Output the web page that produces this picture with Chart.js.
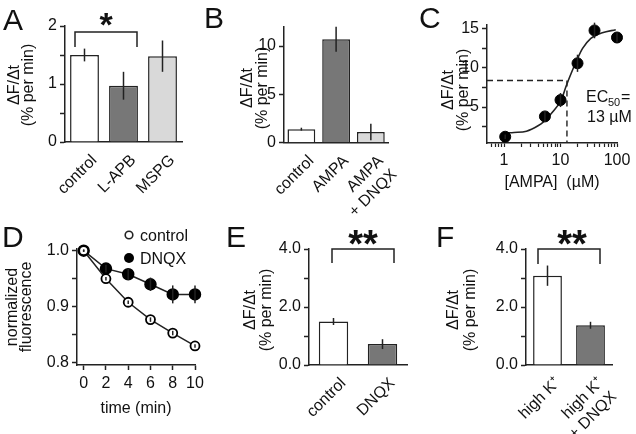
<!DOCTYPE html>
<html>
<head>
<meta charset="utf-8">
<script src="https://cdn.jsdelivr.net/npm/chart.js@4"></script>
<style>
  body { margin: 0; background: #fff; width: 636px; height: 434px; position: relative; overflow: hidden; }
  canvas { position: absolute; }
</style>
</head>
<body>
<canvas id="cA"></canvas>
<canvas id="cB"></canvas>
<canvas id="cC"></canvas>
<canvas id="cD"></canvas>
<canvas id="cE"></canvas>
<canvas id="cF"></canvas>
<script>
// --- data ---
const catA = ['control', 'L-APB', 'MSPG'];
const valA = [1.5, 0.97, 1.48];
const errA = [0.11, 0.24, 0.27];

const catB = ['control', 'AMPA', ['AMPA', '+ DNQX']];
const valB = [1.4, 10.7, 1.1];
const errB = [0.15, 1.3, 0.85];

const concC = [1.05, 5.3, 10, 20, 40, 100];
const valC = [1.2, 3.8, 5.9, 10.6, 14.8, 13.9];
const errC = [0.3, 0.7, 0.9, 1.1, 1.0, 0.6];
const fitX = [1.1, 1.5, 2.5, 4, 5, 7.3, 10.3, 12.6, 15.4, 18.9, 24.6, 34.4, 55, 95];
const fitY = [1.7, 1.75, 1.9, 2.6, 3.1, 4.4, 5.9, 7.7, 9.3, 10.8, 12.5, 13.8, 14.5, 14.9];
const ec50 = 13;
const halfMax = 8.4;

const timeD = [0, 2, 4, 6, 8, 10];
const ctrlD = [1.0, 0.95, 0.908, 0.877, 0.853, 0.83];
const ctrlErr = [0.002, 0.003, 0.003, 0.004, 0.004, 0.003];
const dnqxD = [1.0, 0.968, 0.958, 0.94, 0.922, 0.922];
const dnqxErr = [0.002, 0.007, 0.01, 0.012, 0.016, 0.016];

const catE = ['control', 'DNQX'];
const valE = [1.5, 0.72];
const errE = [0.12, 0.17];

const catF = ['high K\u207A', ['high K\u207A', '+ DNQX']];
const valF = [3.08, 1.37];
const errF = [0.35, 0.12];

const colA = ['#ffffff', '#777777', '#d9d9d9'];
const colE = ['#ffffff', '#777777'];

// --- style ---
const FONT = "'Liberation Sans', Arial, sans-serif";
const INK = '#222';
Chart.defaults.font.family = FONT;
Chart.defaults.font.size = 16;
Chart.defaults.color = '#111';
Chart.defaults.animation = false;
Chart.defaults.plugins.legend.display = false;
Chart.defaults.plugins.tooltip.enabled = false;

const yTitle = ['\u0394F/\u0394t', '(% per min)'];

// error bars for any dataset carrying an "errors" array
const errorBars = {
  id: 'errorBars',
  afterDatasetsDraw(chart) {
    const ctx = chart.ctx, y = chart.scales.y;
    chart.data.datasets.forEach((ds, i) => {
      if (!ds.errors) return;
      chart.getDatasetMeta(i).data.forEach((el, j) => {
        const v = typeof ds.data[j] === 'object' ? ds.data[j].y : ds.data[j];
        const e = ds.errors[j];
        ctx.save();
        ctx.strokeStyle = INK;
        ctx.lineWidth = 1.5;
        ctx.beginPath();
        ctx.moveTo(el.x, y.getPixelForValue(v - e));
        ctx.lineTo(el.x, y.getPixelForValue(v + e));
        ctx.stroke();
        ctx.restore();
      });
    });
  }
};

// panel letters, y titles, brackets, stars, legend marks (page coordinates)
function decor(box, spec) {
  return {
    id: 'decor',
    afterDraw(chart) {
      const ctx = chart.ctx, ox = box[0], oy = box[1];
      ctx.save();
      ctx.strokeStyle = INK;
      ctx.lineWidth = 1.5;
      (spec.brackets || []).forEach(b => {
        ctx.beginPath();
        ctx.moveTo(b[0] - ox, b[3] - oy);
        ctx.lineTo(b[0] - ox, b[2] - oy);
        ctx.lineTo(b[1] - ox, b[2] - oy);
        ctx.lineTo(b[1] - ox, b[3] - oy);
        ctx.stroke();
      });
      (spec.marks || []).forEach(m => {
        ctx.beginPath();
        ctx.arc(m.x - ox, m.y - oy, m.r, 0, Math.PI * 2);
        ctx.fillStyle = m.fill;
        ctx.fill();
        if (m.lw) { ctx.lineWidth = m.lw; ctx.stroke(); }
      });
      ctx.fillStyle = '#111';
      ctx.textBaseline = 'alphabetic';
      (spec.texts || []).forEach(t => {
        ctx.font = t.font || '16px ' + FONT;
        ctx.textAlign = t.align || 'left';
        ctx.fillText(t.t, t.x - ox, t.y - oy);
      });
      if (spec.vtitle) {
        // rotated y-axis title, one line per entry, stacked left to right
        const v = spec.vtitle;
        ctx.font = '16px ' + FONT;
        ctx.textAlign = 'center';
        ctx.textBaseline = 'middle';
        v.lines.forEach((line, i) => {
          ctx.save();
          ctx.translate(v.x - ox + i * v.lh, v.y - oy);
          ctx.rotate(-Math.PI / 2);
          ctx.fillText(line, 0, 0);
          ctx.restore();
        });
      }
      ctx.restore();
    }
  };
}

function yAxis(o) {
  return {
    type: 'linear',
    min: o.min,
    max: o.max,
    afterBuildTicks: s => { s.ticks = o.ticks.map(v => ({ value: v })); },
    ticks: { callback: o.label, padding: 3, autoSkip: false },
    grid: { drawOnChartArea: false, tickLength: 5, tickColor: INK, tickWidth: 1.5 },
    border: { color: INK, width: 1.5 },
    title: { display: false }
  };
}

function catAxis() {
  return {
    type: 'category',
    grid: { display: false, drawTicks: false },
    border: { color: INK, width: 1.5 },
    ticks: { minRotation: 45, maxRotation: 45, autoSkip: false, padding: 9, labelOffset: 10, font: { size: 16 } }
  };
}

function barSet(vals, errs, colors, pct) {
  return {
    data: vals, errors: errs, backgroundColor: colors,
    borderColor: INK, borderWidth: 1.5,
    categoryPercentage: 1, barPercentage: pct
  };
}

function makeChart(id, box, area, cfg, spec) {
  const cv = document.getElementById(id);
  cv.width = box[2] - box[0];
  cv.height = box[3] - box[1];
  cv.style.left = box[0] + 'px';
  cv.style.top = box[1] + 'px';
  const o = cfg.options;
  o.responsive = false;
  o.devicePixelRatio = 1;
  o.layout = { autoPadding: false, padding: { left: 0, top: area[1] - box[1], right: box[2] - area[2], bottom: 0 } };
  o.scales.x.afterFit = s => { s.height = box[3] - area[3]; };
  o.scales.y.afterFit = s => { s.width = area[0] - box[0]; };
  cfg.plugins = [errorBars, decor(box, spec)];
  return new Chart(cv, cfg);
}

const LETTER = '30px ' + FONT;
const intLabel = v => Number.isInteger(v) ? String(v) : '';
const evenLabel = v => (v % 2 === 0 ? v.toFixed(1) : '');

// A
makeChart('cA', [0, 0, 205, 215], [65, 26, 182, 142], {
  type: 'bar',
  data: { labels: catA, datasets: [barSet(valA, errA, colA, 0.74)] },
  options: {
    scales: {
      x: catAxis(),
      y: yAxis({ min: 0, max: 2, ticks: [0, 0.5, 1, 1.5, 2], label: intLabel })
    }
  }
}, {
  texts: [{ t: 'A', x: 3, y: 30, font: LETTER }, { t: '*', x: 106, y: 36, font: 'bold 34px ' + FONT, align: 'center' }],
  brackets: [[75, 137, 32, 47]],
  vtitle: { lines: yTitle, x: 15, y: 85, lh: 14 }
});

// B
makeChart('cB', [200, 0, 410, 215], [284, 26.7, 392, 142.7], {
  type: 'bar',
  data: { labels: catB, datasets: [barSet(valB, errB, colA, 0.8)] },
  options: {
    scales: {
      x: catAxis(),
      y: yAxis({ min: 0, max: 12, ticks: [0, 5, 10], label: v => String(v) })
    }
  }
}, {
  texts: [{ t: 'B', x: 204, y: 28, font: LETTER }],
  vtitle: { lines: yTitle, x: 248, y: 88, lh: 15 }
});

// C
makeChart('cC', [410, 0, 636, 215], [487, 25, 617, 143], {
  type: 'scatter',
  data: {
    datasets: [
      {
        data: concC.map((c, i) => ({ x: c, y: valC[i] })), errors: errC,
        pointRadius: 5.5, pointBackgroundColor: '#000', pointBorderColor: '#000', clip: false
      },
      {
        data: fitX.map((c, i) => ({ x: c, y: fitY[i] })), showLine: true,
        cubicInterpolationMode: 'monotone', pointRadius: 0, borderColor: INK, borderWidth: 1.6
      },
      {
        data: [{ x: 0.5, y: halfMax }, { x: ec50, y: halfMax }], showLine: true,
        pointRadius: 0, borderColor: INK, borderWidth: 1.4, borderDash: [6, 4]
      },
      {
        data: [{ x: ec50, y: halfMax }, { x: ec50, y: 0.4 }], showLine: true,
        pointRadius: 0, borderColor: INK, borderWidth: 1.4, borderDash: [6, 4]
      }
    ]
  },
  options: {
    scales: {
      x: {
        type: 'logarithmic', min: 0.5, max: 100,
        afterBuildTicks: s => {
          s.ticks = [0.6, 0.7, 0.8, 0.9, 1, 2, 3, 4, 5, 6, 7, 8, 9, 10, 20, 30, 40, 50, 60, 70, 80, 90, 100].map(v => ({ value: v }));
        },
        ticks: { callback: v => ([1, 10, 100].includes(v) ? String(v) : ''), padding: 4, maxRotation: 0, autoSkip: false },
        grid: { drawOnChartArea: false, tickLength: 4, tickColor: INK, tickWidth: 1.2 },
        border: { color: INK, width: 1.5 },
        title: { display: true, text: '[AMPA]  (\u00B5M)', font: { size: 16, lineHeight: 1 }, padding: { top: 0, bottom: 24 } }
      },
      y: yAxis({ min: 0.4, max: 15.5, ticks: [2.5, 5, 7.5, 10, 12.5, 15], label: v => (v % 5 === 0 ? String(v) : '') })
    }
  }
}, {
  texts: [
    { t: 'C', x: 419, y: 28, font: LETTER },
    { t: 'EC', x: 586, y: 102 },
    { t: '50', x: 608, y: 106, font: '11px ' + FONT },
    { t: '=', x: 621, y: 102 },
    { t: '13 \u00B5M', x: 587, y: 122 }
  ],
  vtitle: { lines: yTitle, x: 449, y: 90, lh: 15 }
});

// D
makeChart('cD', [0, 215, 215, 434], [77, 249, 195, 365], {
  type: 'scatter',
  data: {
    datasets: [
      {
        data: timeD.map((t, i) => ({ x: t, y: ctrlD[i] })), errors: ctrlErr, showLine: true,
        borderColor: INK, borderWidth: 1.5, pointRadius: 4.5, pointBorderWidth: 1.8,
        pointBackgroundColor: '#fff', pointBorderColor: '#000', clip: false
      },
      {
        data: timeD.map((t, i) => ({ x: t, y: dnqxD[i] })), errors: dnqxErr, showLine: true,
        borderColor: INK, borderWidth: 1.5, pointRadius: 5.5,
        pointBackgroundColor: '#000', pointBorderColor: '#000', clip: false
      }
    ]
  },
  options: {
    scales: {
      x: {
        type: 'linear', min: -0.6, max: 10,
        afterBuildTicks: s => { s.ticks = timeD.map(v => ({ value: v })); },
        ticks: { padding: 4, maxRotation: 0, autoSkip: false },
        grid: { drawOnChartArea: false, tickLength: 5, tickColor: INK, tickWidth: 1.5 },
        border: { color: INK, width: 1.5 },
        title: { display: true, text: 'time (min)', font: { size: 16, lineHeight: 1 }, padding: { top: 0, bottom: 17 } }
      },
      y: yAxis({
        min: 0.796, max: 1.003, ticks: [0.8, 0.85, 0.9, 0.95, 1.0],
        label: v => (Math.abs(v * 10 - Math.round(v * 10)) < 1e-6 ? v.toFixed(1) : '')
      })
    }
  }
}, {
  texts: [
    { t: 'D', x: 2, y: 247, font: LETTER },
    { t: 'control', x: 140, y: 241 },
    { t: 'DNQX', x: 140, y: 264 }
  ],
  marks: [
    { x: 129, y: 235, r: 3.8, fill: '#fff', lw: 1.6 },
    { x: 129, y: 258, r: 5, fill: '#000' }
  ],
  vtitle: { lines: ['normalized', 'fluorescence'], x: 12.5, y: 307, lh: 14 }
});

// E
makeChart('cE', [210, 215, 420, 434], [309, 249, 407, 365], {
  type: 'bar',
  data: { labels: catE, datasets: [barSet(valE, errE, colE, 0.6)] },
  options: {
    scales: {
      x: catAxis(),
      y: yAxis({ min: 0, max: 4, ticks: [0, 1, 2, 3, 4], label: evenLabel })
    }
  }
}, {
  texts: [{ t: 'E', x: 226, y: 247, font: LETTER }, { t: '**', x: 363, y: 257, font: 'bold 38px ' + FONT, align: 'center' }],
  brackets: [[332, 394, 249, 263]],
  vtitle: { lines: yTitle, x: 250.5, y: 310, lh: 16 }
});

// F
makeChart('cF', [420, 215, 636, 434], [526, 249, 612, 365], {
  type: 'bar',
  data: { labels: catF, datasets: [barSet(valF, errF, colE, 0.67)] },
  options: {
    scales: {
      x: catAxis(),
      y: yAxis({ min: 0, max: 4, ticks: [0, 1, 2, 3, 4], label: evenLabel })
    }
  }
}, {
  texts: [{ t: 'F', x: 436, y: 247, font: LETTER }, { t: '**', x: 572, y: 257, font: 'bold 38px ' + FONT, align: 'center' }],
  brackets: [[538, 600, 249, 264]],
  vtitle: { lines: yTitle, x: 453.5, y: 310, lh: 17 }
});
</script>
</body>
</html>
